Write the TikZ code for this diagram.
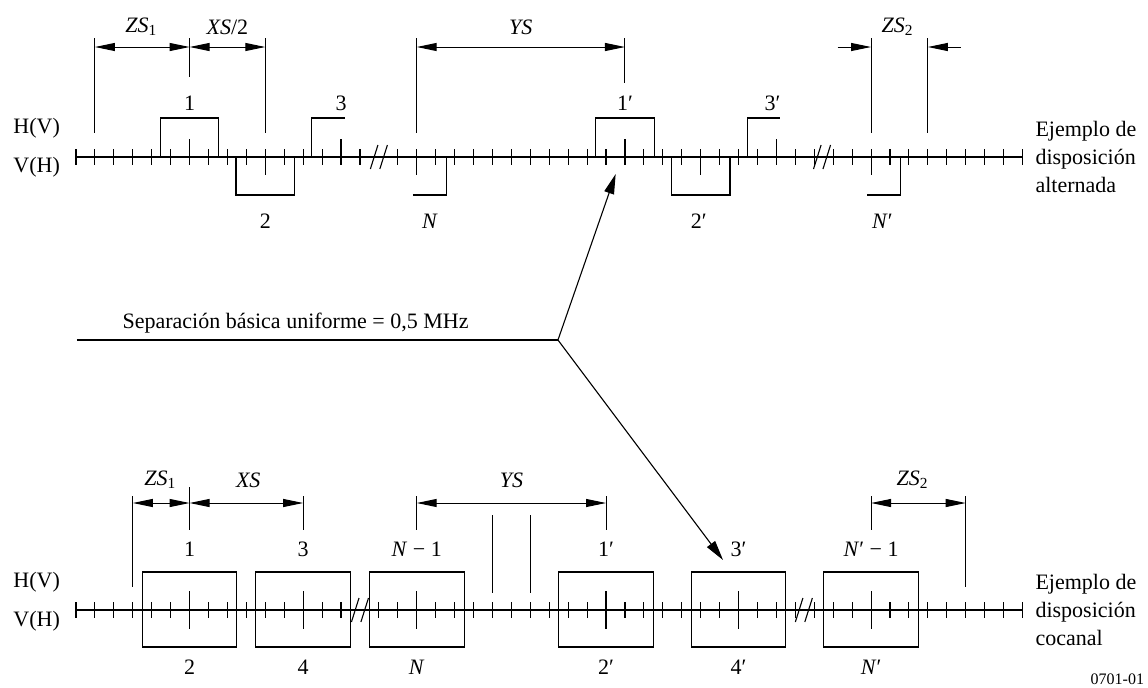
\documentclass[tikz,border=0pt]{standalone}
\usepackage{fontspec}
\setmainfont{Liberation Serif}
\usetikzlibrary{arrows.meta,positioning}

\begin{document}
\begin{tikzpicture}[x=9.465pt,y=-0.5pt,line width=0.55pt,
	dimarr/.style={line width=0.5pt,{Triangle[length=10pt,width=4pt]}-{Triangle[length=10pt,width=4pt]}},
	inarr/.style={line width=0.5pt,-{Triangle[length=10pt,width=4pt]}},
	bigarr/.style={line width=0.55pt,-{Triangle[length=10pt,width=5pt]}},
	lbl/.style={font=\fontsize{11}{14}\selectfont,inner sep=0pt}]
	\useasboundingbox (-4.015,0) rectangle (56.63,687);
	% disposicion alternada
	\draw (0,157) -- (50,157);
	\foreach \k in {0,...,50} {\ifnum\k=16\relax\else\draw (\k,149) -- (\k,165);\fi}
	\foreach \k in {6,14,29,37} \draw (\k,139) -- (\k,157);
	\foreach \k in {10,18,33,42} \draw (\k,157) -- (\k,175);
	\foreach \k in {6,29} \draw (\k-1.55,157) -- (\k-1.55,118) -- (\k+1.55,118) -- (\k+1.55,157);
	\foreach \k in {10,33} \draw (\k-1.55,157) -- (\k-1.55,195) -- (\k+1.55,195) -- (\k+1.55,157);
	\foreach \k in {14,37} \draw (\k-1.55,157) -- (\k-1.55,118) -- (\k+0.2,118);
	\foreach \k in {18,42} \draw (\k-0.2,195) -- (\k+1.55,195) -- (\k+1.55,157);
	\foreach \k/\t/\n in {6/1/ta1,14/3/ta3,29/1′/ta1p,36.8/3′/ta3p}
		\node[lbl] (\n) at (\k,103) {\t};
	\foreach \k/\t/\n in {10/2/tb2,18.7/\textit{N}/tbN,32.9/2′/tb2p,42.6/\textit{N}′/tbNp}
		\node[lbl] (\n) at (\k,221) {\t};
	% cotas arriba
	\foreach \k/\a/\b in {1/38/133,6/38/77,10/38/133,18/38/133,29/38/83,42/38/133,45/38/133}
		\draw[line width=0.5pt] (\k,\a) -- (\k,\b);
	\draw[dimarr] (1,47) -- (6,47);
	\draw[dimarr] (6,47) -- (10,47);
	\draw[dimarr] (18,47) -- (29,47);
	\draw[inarr] (40.23,47) -- (42,47);
	\draw[inarr] (46.75,47) -- (45,47);
	\node[lbl] (zsa) at (3.45,27) {\textit{ZS}\textsubscript{1}};
	\node[lbl] (xsa) at (8,27) {\textit{XS}/2};
	\node[lbl] (ysa) at (23.5,27) {\textit{YS}};
	\node[lbl] (zsb) at (43.4,27) {\textit{ZS}\textsubscript{2}};
	% disposicion cocanal
	\draw (0,610) -- (50,610);
	\foreach \k in {0,...,50} {\ifnum\k=15\relax\else\draw (\k,602) -- (\k,618);\fi}
	\foreach \k in {6,12,18,28,35,42} {
		\draw (\k,591) -- (\k,629);
		\draw (\k-2.5,572) rectangle (\k+2.5,647);
	}
	\foreach \k/\t/\n in {6/1/ca1,12/3/ca3,18/\textit{N} − 1/caN,28/1′/ca1p,35/3′/ca3p,42/\textit{N}′ − 1/caNp}
		\node[lbl] (\n) at (\k,549) {\t};
	\foreach \k/\t/\n in {6/2/cb2,12/4/cb4,18/\textit{N}/cbN,28/2′/cb2p,35/4′/cb4p,42/\textit{N}′/cbNp}
		\node[lbl] (\n) at (\k,667) {\t};
	% cotas abajo
	\foreach \k/\a/\b in {3/496/587,6/487/530,12/496/530,18/496/530,28/496/530,42/496/530,47/496/587,22/515/593,24/515/593}
		\draw[line width=0.5pt] (\k,\a) -- (\k,\b);
	\draw[dimarr] (3,503) -- (6,503);
	\draw[dimarr] (6,503) -- (12,503);
	\draw[dimarr] (18,503) -- (28,503);
	\draw[dimarr] (42,503) -- (47,503);
	\node[lbl] (zsc) at (4.45,480) {\textit{ZS}\textsubscript{1}};
	\node[lbl] (xsc) at (9.1,480) {\textit{XS}};
	\node[lbl] (ysc) at (23,480) {\textit{YS}};
	\node[lbl] (zsd) at (44.2,480) {\textit{ZS}\textsubscript{2}};
	% cortes
	\foreach \b/\y in {16/157,39.41/157,15/610,38.45/610} {
		\draw (\b-0.45,\y+12) -- (\b-0.05,\y-12);
		\draw (\b+0.05,\y+12) -- (\b+0.45,\y-12);
	}
	% textos laterales
	\foreach \y/\t/\n in {128/H(V)/hva,167/V(H)/vha,582/H(V)/hvb,621/V(H)/vhb}
		\node[lbl] (\n) at (-2.08,\y) {\t};
	\node[lbl,anchor=west,align=left] (alt) at (50.66,157) {Ejemplo de\\disposición\\alternada};
	\node[lbl,anchor=west,align=left] (coc) at (50.66,610) {Ejemplo de\\disposición\\cocanal};
	% separacion basica
	\coordinate (sepini) at (0.05,340);
	\coordinate (junc) at (25.46,340);
	\coordinate (tipalt) at (28.51,174);
	\coordinate (tipcoc) at (34.18,560);
	\node[lbl,anchor=base west] (sep) at (2.43,328) {Separación básica uniforme = 0,5 MHz};
	\draw (sepini) -- (junc);
	\draw[bigarr] (junc) -- (tipalt);
	\draw[bigarr] (junc) -- (tipcoc);
	\node[font=\fontsize{8}{10}\selectfont,inner sep=0pt,anchor=east] (code) at (56.45,679) {0701-01};
\end{tikzpicture}
\end{document}
